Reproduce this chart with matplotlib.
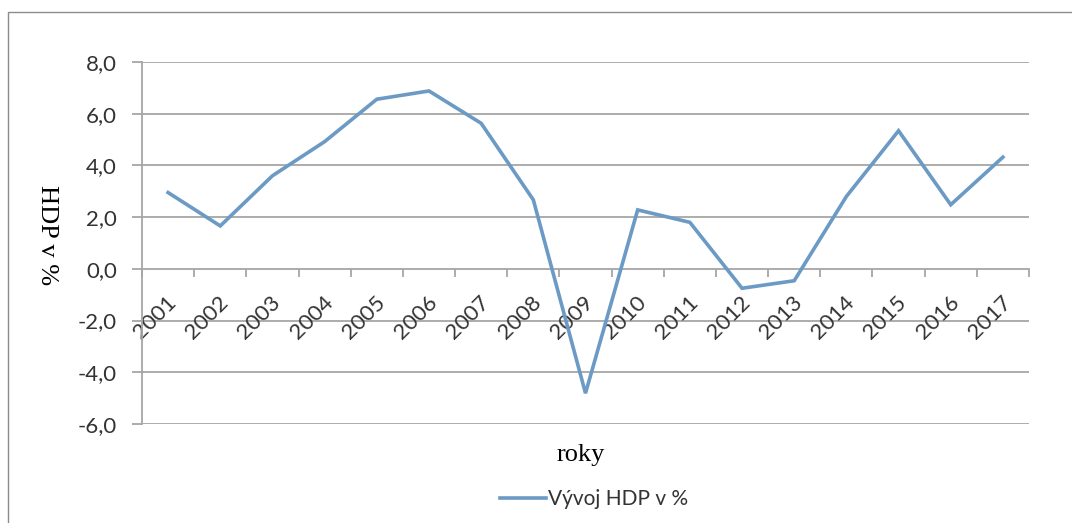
import matplotlib
matplotlib.use("Agg")
import matplotlib.pyplot as plt
import matplotlib.transforms as mtransforms
from matplotlib.patches import Rectangle
import numpy as np

years = ["2001", "2002", "2003", "2004", "2005", "2006", "2007", "2008", "2009",
         "2010", "2011", "2012", "2013", "2014", "2015", "2016", "2017"]
gdp = [2.95, 1.66, 3.6, 4.92, 6.56, 6.88, 5.63, 2.67, -4.81,
       2.28, 1.8, -0.75, -0.46, 2.8, 5.34, 2.48, 4.32]
yticks = [-6, -4, -2, 0, 2, 4, 6, 8]
ytick_labels = ["-6,0", "-4,0", "-2,0", "0,0", "2,0", "4,0", "6,0", "8,0"]

W, H = 1072, 523
fig = plt.figure(figsize=(W / 100, H / 100), dpi=100)
fig.patch.set_facecolor("white")

# outer chart frame
fig.add_artist(Rectangle((8 / W, -0.05), 1.2, (H - 12) / H + 0.05,
                         transform=fig.transFigure, fill=False,
                         edgecolor="#8c8c8c", linewidth=1.0))

ax = fig.add_axes([142 / W, 1 - 424 / H, (1029 - 142) / W, (424 - 62) / H])
ax.set_facecolor("white")

x = np.arange(len(years))
line_color = "#6b9ac4"
ax.plot(x, gdp, color=line_color, linewidth=2.6, solid_joinstyle="miter",
        label="Vývoj HDP v %", zorder=3)

ax.set_xlim(-0.5, len(years) - 0.5)
ax.set_ylim(-6, 8)
ax.set_yticks(yticks)
ax.set_yticklabels(ytick_labels)

grid_color = "#a6a6a6"
for yv in yticks:
    if yv != 0:
        ax.axhline(yv, color=grid_color, linewidth=1.3, zorder=1)

for s in ["top", "right"]:
    ax.spines[s].set_visible(False)
ax.spines["left"].set_color(grid_color)
ax.spines["left"].set_linewidth(1.3)
ax.spines["bottom"].set_position(("data", 0))
ax.spines["bottom"].set_color(grid_color)
ax.spines["bottom"].set_linewidth(1.3)

ax.tick_params(axis="y", length=7, width=1.3, color=grid_color, pad=11,
               labelsize=16, labelcolor="#333333")
for lab in ax.get_yticklabels():
    lab.set_fontfamily("Lato")

ax.set_xticks(x)
ax.set_xticklabels(years)
ax.set_xticks(np.arange(-0.5, len(years) + 0.5, 1), minor=True)
ax.tick_params(axis="x", which="major", length=0, pad=17, labelsize=16,
               labelcolor="#333333")
ax.tick_params(axis="x", which="minor", length=6, width=1.3, color=grid_color,
               direction="out")
offset = mtransforms.ScaledTranslation(-2 / 100, 0, fig.dpi_scale_trans)
for lab in ax.get_xticklabels():
    lab.set_rotation(45)
    lab.set_ha("right")
    lab.set_va("top")
    lab.set_rotation_mode("anchor")
    lab.set_fontfamily("Lato")
    lab.set_transform(lab.get_transform() + offset)

fig.text(47 / W, 1 - 235 / H, "HDP v %", rotation=-90, ha="center", va="center",
         fontsize=19, family="Liberation Serif", color="#000000")
fig.text(581 / W, 1 - 455 / H, "roky", ha="center", va="center",
         fontsize=19, family="Liberation Serif", color="#000000")

leg = fig.legend(loc="center", bbox_to_anchor=(594 / W, 1 - 499 / H),
                 frameon=False, prop={"family": "Lato", "size": 15},
                 handlelength=2.2, handletextpad=0.1)
for t in leg.get_texts():
    t.set_color("#333333")

fig.savefig("out.png", dpi=100, facecolor="white")
